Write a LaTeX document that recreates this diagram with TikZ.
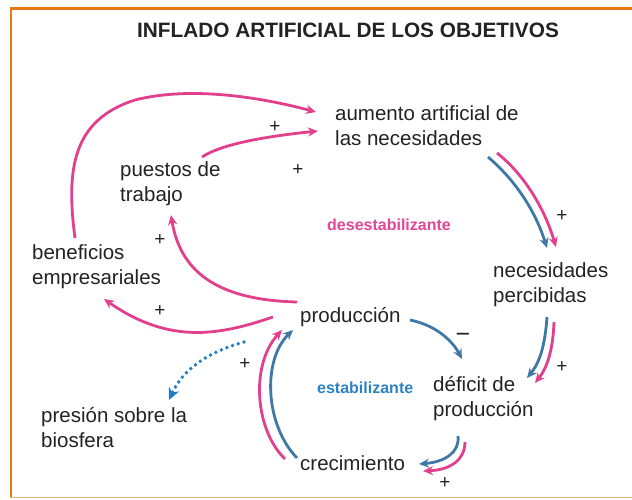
\documentclass[tikz,border=0pt]{standalone}
\usepackage{fontspec}
\setmainfont{Liberation Sans}
\usetikzlibrary{arrows.meta}
\definecolor{pk}{RGB}{226,64,140}
\definecolor{bl}{RGB}{64,120,165}
\definecolor{dotbl}{RGB}{30,125,195}
\definecolor{estbl}{RGB}{45,130,195}
\definecolor{despk}{RGB}{226,70,150}
\definecolor{txt}{RGB}{35,35,35}
\definecolor{frameor}{RGB}{232,120,20}
\definecolor{framelt}{RGB}{246,180,120}
\begin{document}
\begin{tikzpicture}[x=1pt,y=-1pt,
  lbl/.style={anchor=base west, align=left, inner sep=0pt, text=txt, font=\fontsize{20.5}{25}\selectfont},
  loop/.style={anchor=base west, inner sep=0pt, font=\fontsize{16}{18}\selectfont\bfseries},
  pa/.style={draw=pk, line width=2.8pt, -{Stealth[length=10pt,width=9pt]}},
  ba/.style={draw=bl, line width=2.8pt, -{Stealth[length=10pt,width=9pt]}},
  sg/.style={inner sep=0pt, text=txt, font=\fontsize{19}{19}\selectfont}]
\useasboundingbox (0,0) rectangle (632,499);
\fill[white] (0,0) rectangle (632,499);
% frame
\draw[frameor, line width=3pt] (10,8) -- (632,8);
\draw[frameor, line width=2.5pt] (11,7) -- (11,497.5);
\draw[framelt, line width=1.5pt] (10,497.5) -- (632,497.5);
% title
\node[anchor=base, inner sep=0pt, text=txt, font={\fontsize{20.8}{25}\selectfont\bfseries}] (title) at (348,37) {INFLADO ARTIFICIAL DE LOS OBJETIVOS};
% labels (base anchor = baseline of last line)
\node[lbl] (aum) at (335,145) {aumento artificial de\\las necesidades};
\node[lbl] (pue) at (120,201) {puestos de\\trabajo};
\node[lbl] (ben) at (32,284) {beneficios\\empresariales};
\node[lbl] (nec) at (493,302) {necesidades\\percibidas};
\node[lbl] (pro) at (300,322) {producción};
\node[lbl] (def) at (433,416) {déficit de\\producción};
\node[lbl] (pre) at (41,447) {presión sobre la\\biosfera};
\node[lbl] (cre) at (300,470) {crecimiento};
\node[loop, text=despk] (des) at (327,230) {desestabilizante};
\node[loop, text=estbl] (est) at (317,393) {estabilizante};
% coordinates
\coordinate (c1a) at (75,238);   \coordinate (c1b) at (316,112);
\coordinate (c2a) at (202,157);  \coordinate (c2b) at (318,131);
\coordinate (c3a) at (297,302);  \coordinate (c3b) at (171,215);
\coordinate (c4a) at (273,317);  \coordinate (c4b) at (104,299);
\coordinate (c5a) at (488,157);  \coordinate (c5b) at (547,248);
\coordinate (c5c) at (497,153);  \coordinate (c5d) at (556,247);
\coordinate (c6a) at (547,317);  \coordinate (c6b) at (527,378);
\coordinate (c6c) at (554,322);  \coordinate (c6d) at (535,383);
\coordinate (c7a) at (410,320);  \coordinate (c7b) at (462,359);
\coordinate (c8a) at (458,436);  \coordinate (c8b) at (419,464);
\coordinate (c8c) at (465,442);  \coordinate (c8d) at (423,471);
\coordinate (c9a) at (285,459);  \coordinate (c9b) at (282,330);
\coordinate (c9c) at (297,458);  \coordinate (c9d) at (293,330);
\coordinate (c10a) at (244,342); \coordinate (c10b) at (169,400);
% connectors
\draw[pa] (c1a) .. controls (66,170) and (72,120) .. (135,100) .. controls (190,86) and (260,97) .. (c1b);
\draw[pa] (c2a) .. controls (220,145) and (260,137) .. (c2b);
\draw[pa] (c3a) .. controls (215,300) and (180,270) .. (c3b);
\draw[pa] (c4a) .. controls (220,335) and (170,345) .. (c4b);
\draw[ba] (c5a) .. controls (515,180) and (535,210) .. (c5b);
\draw[pa] (c5c) .. controls (525,175) and (545,210) .. (c5d);
\draw[ba] (c6a) .. controls (545,345) and (540,362) .. (c6b);
\draw[pa] (c6c) .. controls (553,350) and (547,368) .. (c6d);
\draw[ba] (c7a) .. controls (435,325) and (452,340) .. (c7b);
\draw[ba] (c8a) .. controls (460,452) and (445,462) .. (c8b);
\draw[pa] (c8c) .. controls (465,460) and (450,470) .. (c8d);
\draw[pa] (c9a) .. controls (255,430) and (250,365) .. (c9b);
\draw[ba] (c9c) .. controls (265,425) and (262,360) .. (c9d);
\draw[draw=dotbl, line width=3.8pt, line cap=round, dash pattern=on 0pt off 6pt, -{Stealth[length=12pt,width=11pt]}] (c10a) .. controls (215,350) and (185,365) .. (c10b);
% signs
\node[sg] (s1) at (275,127) {+};
\node[sg] (s2) at (298,170) {+};
\node[sg] (s3) at (160,240) {+};
\node[sg] (s4) at (160,311) {+};
\node[sg] (s5) at (562,216) {+};
\node[sg] (s6) at (562,367) {+};
\node[sg] (s7) at (445,483) {+};
\node[sg] (s8) at (245,364) {+};
\node[sg, font=\fontsize{25}{25}\selectfont] (s9) at (463,338) {−};
\end{tikzpicture}
\end{document}
